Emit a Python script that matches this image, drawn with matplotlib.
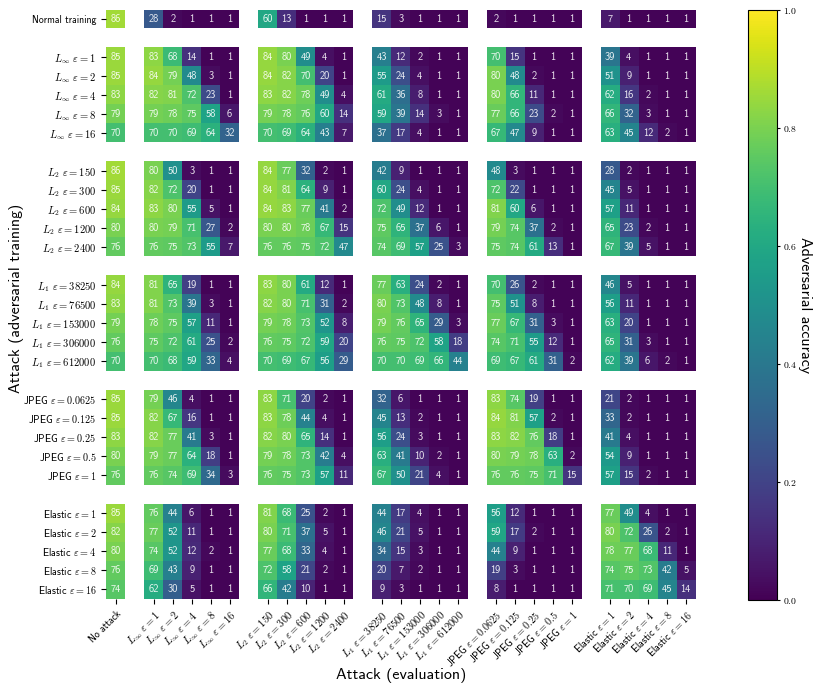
import numpy as np
import matplotlib
matplotlib.use('Agg')
from matplotlib import pyplot as plt
from matplotlib.ticker import FuncFormatter

plt.rcParams['mathtext.fontset'] = 'cm'
plt.rcParams['font.family'] = ['cmss10', 'DejaVu Sans']
plt.rcParams['axes.formatter.use_mathtext'] = True

# attack groups, the same order on both axes
linf_eps = ['1', '2', '4', '8', '16']
l2_eps = ['150', '300', '600', '1200', '2400']
l1_eps = ['38250', '76500', '153000', '306000', '612000']
jpeg_eps = ['0.0625', '0.125', '0.25', '0.5', '1']
elastic_eps = ['1', '2', '4', '8', '16']

# accuracy in %, columns: no attack | Linf x5 | L2 x5 | L1 x5 | JPEG x5 | Elastic x5
normal_rows = [
    [86, 28, 2, 1, 1, 1, 60, 13, 1, 1, 1, 15, 3, 1, 1, 1, 2, 1, 1, 1, 1, 7, 1, 1, 1, 1],
]
linf_rows = [
    [85, 83, 68, 14, 1, 1, 84, 80, 49, 4, 1, 43, 12, 2, 1, 1, 70, 15, 1, 1, 1, 39, 4, 1, 1, 1],
    [85, 84, 79, 48, 3, 1, 84, 82, 70, 20, 1, 55, 24, 4, 1, 1, 80, 48, 2, 1, 1, 51, 9, 1, 1, 1],
    [83, 82, 81, 72, 23, 1, 83, 82, 78, 49, 4, 61, 36, 8, 1, 1, 80, 66, 11, 1, 1, 62, 16, 2, 1, 1],
    [79, 79, 78, 75, 58, 6, 79, 78, 76, 60, 14, 59, 39, 14, 3, 1, 77, 66, 23, 2, 1, 66, 32, 3, 1, 1],
    [70, 70, 70, 69, 64, 32, 70, 69, 64, 43, 7, 37, 17, 4, 1, 1, 67, 47, 9, 1, 1, 63, 45, 12, 2, 1],
]
l2_rows = [
    [86, 80, 50, 3, 1, 1, 84, 77, 32, 2, 1, 42, 9, 1, 1, 1, 48, 3, 1, 1, 1, 28, 2, 1, 1, 1],
    [85, 82, 72, 20, 1, 1, 84, 81, 64, 9, 1, 60, 24, 4, 1, 1, 72, 22, 1, 1, 1, 45, 5, 1, 1, 1],
    [84, 83, 80, 55, 5, 1, 84, 83, 77, 41, 2, 72, 49, 12, 1, 1, 81, 60, 6, 1, 1, 57, 11, 1, 1, 1],
    [80, 80, 79, 71, 27, 2, 80, 80, 78, 67, 15, 75, 65, 37, 6, 1, 79, 74, 37, 2, 1, 65, 23, 2, 1, 1],
    [76, 76, 75, 73, 55, 7, 76, 76, 75, 72, 47, 74, 69, 57, 25, 3, 75, 74, 61, 13, 1, 67, 39, 5, 1, 1],
]
l1_rows = [
    [84, 81, 65, 19, 1, 1, 83, 80, 61, 12, 1, 77, 63, 24, 2, 1, 70, 26, 2, 1, 1, 46, 5, 1, 1, 1],
    [83, 81, 73, 39, 3, 1, 82, 80, 71, 31, 2, 80, 73, 48, 8, 1, 75, 51, 8, 1, 1, 56, 11, 1, 1, 1],
    [79, 78, 75, 57, 11, 1, 79, 78, 73, 52, 8, 79, 76, 65, 29, 3, 77, 67, 31, 3, 1, 63, 20, 1, 1, 1],
    [76, 75, 72, 61, 25, 2, 76, 75, 72, 59, 20, 76, 75, 72, 58, 18, 74, 71, 55, 12, 1, 65, 31, 3, 1, 1],
    [70, 70, 68, 59, 33, 4, 70, 69, 67, 56, 29, 70, 70, 69, 66, 44, 69, 67, 61, 31, 2, 62, 39, 6, 2, 1],
]
jpeg_rows = [
    [85, 79, 46, 4, 1, 1, 83, 71, 20, 2, 1, 32, 6, 1, 1, 1, 83, 74, 19, 1, 1, 21, 2, 1, 1, 1],
    [85, 82, 67, 16, 1, 1, 83, 78, 44, 4, 1, 45, 13, 2, 1, 1, 84, 81, 57, 2, 1, 33, 2, 1, 1, 1],
    [83, 82, 77, 41, 3, 1, 82, 80, 65, 14, 1, 56, 24, 3, 1, 1, 83, 82, 76, 18, 1, 41, 4, 1, 1, 1],
    [80, 79, 77, 64, 18, 1, 79, 78, 73, 42, 4, 63, 41, 10, 2, 1, 80, 79, 78, 63, 2, 54, 9, 1, 1, 1],
    [76, 76, 74, 69, 34, 3, 76, 75, 73, 57, 11, 67, 50, 21, 4, 1, 76, 76, 75, 71, 15, 57, 15, 2, 1, 1],
]
elastic_rows = [
    [85, 76, 44, 6, 1, 1, 81, 68, 25, 2, 1, 44, 17, 4, 1, 1, 56, 12, 1, 1, 1, 77, 49, 4, 1, 1],
    [82, 77, 52, 11, 1, 1, 80, 71, 37, 5, 1, 46, 21, 5, 1, 1, 59, 17, 2, 1, 1, 80, 72, 26, 2, 1],
    [80, 74, 52, 12, 2, 1, 77, 68, 33, 4, 1, 34, 15, 3, 1, 1, 44, 9, 1, 1, 1, 78, 77, 68, 11, 1],
    [76, 69, 43, 9, 1, 1, 72, 58, 21, 2, 1, 20, 7, 2, 1, 1, 19, 3, 1, 1, 1, 74, 75, 73, 42, 5],
    [74, 62, 30, 5, 1, 1, 66, 42, 10, 1, 1, 9, 3, 1, 1, 1, 8, 1, 1, 1, 1, 71, 70, 69, 45, 14],
]


def make_labels(name, eps):
    return [name + r' $\varepsilon = ' + e + '$' for e in eps]

label_groups = [
    ['Normal training'],
    make_labels(r'$L_\infty$', linf_eps),
    make_labels(r'$L_2$', l2_eps),
    make_labels(r'$L_1$', l1_eps),
    make_labels('JPEG', jpeg_eps),
    make_labels('Elastic', elastic_eps),
]
col_groups = [['No attack']] + label_groups[1:]
row_groups = [normal_rows, linf_rows, l2_rows, l1_rows, jpeg_rows, elastic_rows]


def positions(groups):
    # one empty cell between groups
    pos, i = [], 0
    for g in groups:
        for _ in g:
            pos.append(i)
            i += 1
        i += 1
    return pos, i - 1

row_pos, n_rows = positions(label_groups)
col_pos, n_cols = positions(col_groups)

acc = np.array([r for g in row_groups for r in g], dtype=float)
grid = np.full((n_rows, n_cols), np.nan)
for a, rp in enumerate(row_pos):
    for b, cp in enumerate(col_pos):
        grid[rp, cp] = acc[a, b] / 100.0

fig = plt.figure(figsize=(8.22, 6.92), dpi=100)
ax = fig.add_axes([0.128, 0.1344, 0.719, 0.8512])
im = ax.imshow(grid, cmap='viridis', vmin=0, vmax=1, aspect='equal', interpolation='nearest')

for a, rp in enumerate(row_pos):
    for b, cp in enumerate(col_pos):
        ax.text(cp, rp, '%d' % acc[a, b], ha='center', va='center', color='white', fontsize=7.5, alpha=0.9)

ax.set_yticks(row_pos)
ax.set_yticklabels([l for g in label_groups for l in g], fontsize=7)
ax.set_xticks(col_pos)
ax.set_xticklabels([l for g in col_groups for l in g], fontsize=7, rotation=45, ha='right', rotation_mode='anchor')


def label_size(t):
    s = t.get_text()
    if s.startswith('$L'):
        return 7.6
    if '$' in s:
        return 7.3
    return 7

for t in ax.get_yticklabels() + ax.get_xticklabels():
    t.set_fontsize(label_size(t))

for s in ax.spines.values():
    s.set_visible(False)
ax.set_ylabel('Attack (adversarial training)', fontsize=11.5)
ax.set_xlabel('Attack (evaluation)', fontsize=11.5)
ax.yaxis.set_label_coords(-0.140, 0.51)
ax.xaxis.set_label_coords(0.5, -0.117)

cax = fig.add_axes([0.910, 0.133, 0.035, 0.853])
cb = fig.colorbar(im, cax=cax)
cb.set_ticks([0.0, 0.2, 0.4, 0.6, 0.8, 1.0])
cb.ax.yaxis.set_major_formatter(FuncFormatter(lambda v, p: '$%.1f$' % v))
cb.ax.tick_params(labelsize=7, length=2.5, pad=2)
cb.set_label('Adversarial accuracy', rotation=270, fontsize=11.5, labelpad=11)

fig.savefig('out.png', dpi=100)
